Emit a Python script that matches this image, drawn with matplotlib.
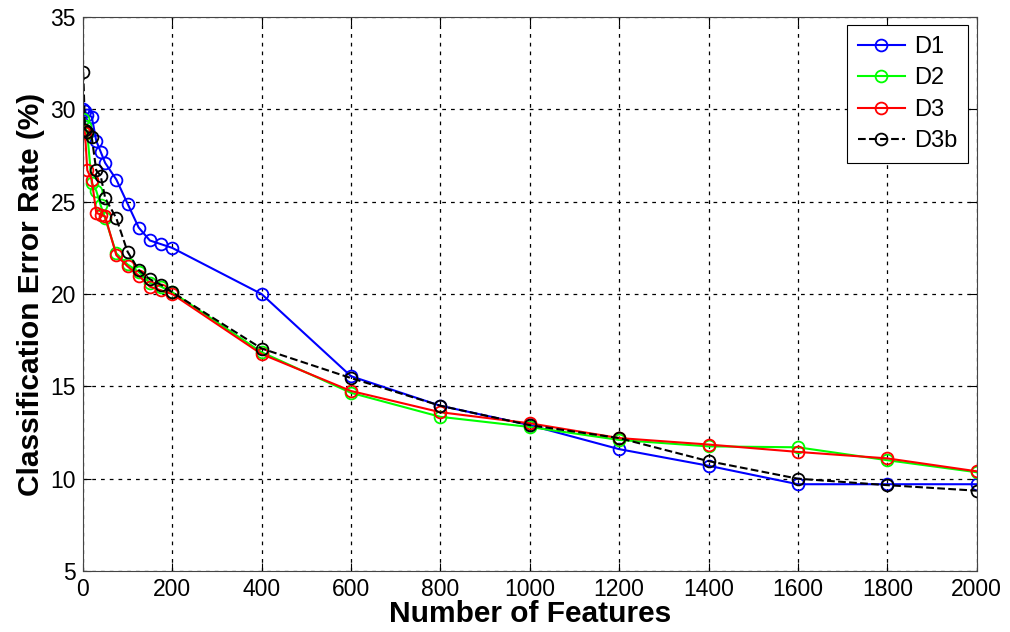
import numpy as np
import matplotlib as mpl
import matplotlib.pyplot as plt

mpl.rc('font', family=['Liberation Sans', 'DejaVu Sans'], size=16)

features = [1, 5, 10, 20, 30, 40, 50, 75, 100, 125, 150, 175, 200,
            400, 600, 800, 1000, 1200, 1400, 1600, 1800, 2000]

d1 = [30.0, 29.9, 29.7, 29.6, 28.3, 27.7, 27.1, 26.2, 24.9, 23.6, 22.9, 22.7, 22.5,
      20.0, 15.55, 13.95, 12.9, 11.6, 10.7, 9.7, 9.7, 9.7]
d2 = [29.5, 29.1, 28.7, 26.0, 25.6, 24.8, 24.1, 22.2, 21.6, 21.2, 20.6, 20.4, 20.1,
      16.85, 14.65, 13.35, 12.8, 12.1, 11.75, 11.7, 11.0, 10.35]
d3 = [28.9, 28.7, 26.7, 26.2, 24.4, 24.3, 24.2, 22.1, 21.5, 21.0, 20.4, 20.2, 20.0,
      16.75, 14.75, 13.6, 13.0, 12.2, 11.85, 11.45, 11.1, 10.4]
d3b = [32.0, 28.9, 28.8, 28.5, 26.7, 26.4, 25.2, 24.1, 22.3, 21.3, 20.8, 20.5, 20.1,
       17.05, 15.45, 13.95, 12.9, 12.2, 10.95, 10.0, 9.65, 9.35]

fig = plt.figure(figsize=(10.1, 6.32), dpi=100)
ax = fig.add_axes([0.082, 0.0965, 0.885, 0.8765])

style = dict(marker='o', markersize=8.5, markerfacecolor='none', linewidth=1.5,
             markeredgewidth=1.3)
ax.plot(features, d1, color='#0000ff', label='D1', **style)
ax.plot(features, d2, color='#00ff00', label='D2', **style)
ax.plot(features, d3, color='#ff0000', label='D3', **style)
ax.plot(features, d3b, color='black', linestyle='--', label='D3b', **style)

ax.set_xlim(0, 2000)
ax.set_ylim(5, 35)
ax.set_xticks(np.arange(0, 2001, 200))
ax.set_yticks(np.arange(5, 36, 5))
ax.grid(True, color='black', linestyle=(0, (3, 4)), linewidth=0.9)
ax.tick_params(direction='in', length=6, top=True, right=True, labelsize=16.5, pad=5)
for s in ax.spines.values():
    s.set_linewidth(0.8)
    s.set_color('#444444')

ax.set_xlabel('Number of Features', fontsize=21.5, fontweight='bold', labelpad=-1)
ax.set_ylabel('Classification Error Rate (%)', fontsize=21.5, fontweight='bold', labelpad=4)

leg = ax.legend(loc='upper right', fontsize=17, fancybox=False, edgecolor='black',
                framealpha=1, handlelength=2.0, handletextpad=0.4, borderpad=0.45,
                labelspacing=0.4, borderaxespad=0.35)
leg.get_frame().set_linewidth(0.8)

fig.savefig('out.png', dpi=100)
